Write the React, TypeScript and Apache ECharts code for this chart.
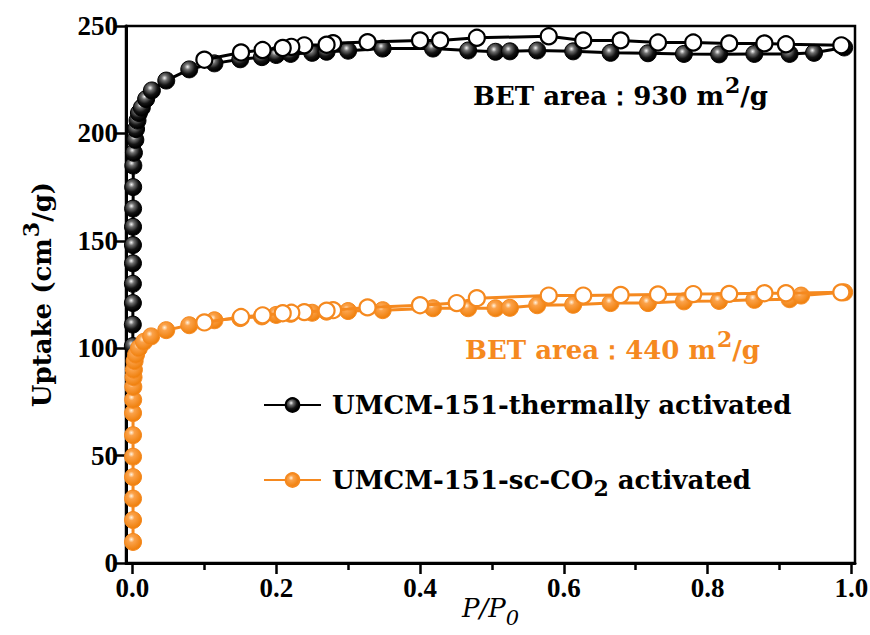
import React, { useEffect, useRef } from 'react';
import * as echarts from 'echarts';

// ---- data ----
const thermAdsX = [0.0005, 0.0005, 0.0006, 0.0006, 0.0007, 0.0007, 0.0008, 0.0009, 0.001, 0.0012, 0.002, 0.004, 0.005, 0.007, 0.009, 0.013, 0.019, 0.027, 0.047, 0.079, 0.114, 0.15, 0.18, 0.2, 0.22, 0.25, 0.27, 0.3, 0.348, 0.418, 0.467, 0.505, 0.525, 0.563, 0.613, 0.665, 0.717, 0.767, 0.816, 0.865, 0.914, 0.948, 0.99];
const thermAdsY = [101, 111, 121, 130, 139.5, 148, 156.5, 165, 175, 185, 191, 197, 202, 206, 209.5, 212, 216, 220, 224.6, 229.8, 232.6, 234.5, 235.5, 236.5, 237, 237.5, 238, 238.5, 239.5, 239.5, 238.6, 238, 238.2, 238.6, 238.2, 237.5, 237.3, 237, 236.8, 237, 237, 237.5, 240];

const thermDesX = [0.986, 0.909, 0.879, 0.83, 0.78, 0.731, 0.679, 0.627, 0.579, 0.479, 0.428, 0.4, 0.327, 0.279, 0.27, 0.239, 0.221, 0.209, 0.181, 0.151, 0.1];
const thermDesY = [241, 241.5, 241.9, 241.9, 242.3, 242.3, 243.3, 243.3, 245.2, 244.5, 243.3, 243.3, 242.5, 242, 241.3, 241, 240.3, 239.8, 238.8, 237.7, 234.3];

const scAdsX = [0.0008, 0.0008, 0.0008, 0.0008, 0.0008, 0.0008, 0.0008, 0.001, 0.0012, 0.0015, 0.002, 0.003, 0.005, 0.009, 0.016, 0.026, 0.047, 0.079, 0.114, 0.15, 0.18, 0.2, 0.22, 0.25, 0.27, 0.3, 0.348, 0.418, 0.467, 0.505, 0.525, 0.563, 0.613, 0.665, 0.717, 0.767, 0.816, 0.865, 0.914, 0.93, 0.99];
const scAdsY = [9.8, 20, 30, 40, 49.5, 59.5, 69.8, 76, 82, 86.5, 90, 94, 97, 100, 103, 105.5, 108.4, 110.7, 113, 114, 114.8, 115.5, 116, 116.5, 117, 117.3, 117.7, 118.6, 118.6, 118.6, 118.8, 120, 120.2, 121, 121, 121.8, 122, 122.5, 122.8, 124.5, 126];

const scDesX = [0.986, 0.909, 0.879, 0.83, 0.78, 0.731, 0.679, 0.627, 0.579, 0.479, 0.451, 0.4, 0.327, 0.279, 0.27, 0.239, 0.221, 0.209, 0.181, 0.151, 0.1];
const scDesY = [126, 125.6, 125.6, 125.3, 125.2, 125, 124.8, 124.5, 124.5, 123.3, 121, 120, 119, 117.7, 117.5, 116.8, 116.5, 116.3, 115.3, 114.5, 112];

const xTickValues = [0, 0.2, 0.4, 0.6, 0.8, 1.0];
const seriesNames = ['UMCM-151-thermally activated', 'UMCM-151-sc-CO2 activated'];
const betLabels = ['930', '440'];

const SERIF = '"DejaVu Serif", "Liberation Serif", serif';
const TICKFONT = '"Liberation Serif", "DejaVu Serif", serif';
const ORANGE = '#F5891F';

const zip = (xs: number[], ys: number[]) => xs.map((x, i) => [x, ys[i]]);

const richBase = (size: number, color: string, lh: number, italic = false, bold = true, family = SERIF) => ({
  fontFamily: family,
  fontWeight: bold ? 'bold' : 'normal',
  fontStyle: italic ? 'italic' : 'normal',
  fontSize: size,
  color,
  lineHeight: lh,
});

export default function App() {
  const ref = useRef<HTMLDivElement>(null);
  useEffect(() => {
    const chart = echarts.init(ref.current!, null, { renderer: 'svg' });
    const ballBlack = new echarts.graphic.RadialGradient(0.4, 0.35, 0.6, [
      { offset: 0, color: '#f5f5f5' },
      { offset: 0.28, color: '#707070' },
      { offset: 0.7, color: '#141414' },
      { offset: 1, color: '#000' },
    ]);
    const ballOrange = new echarts.graphic.RadialGradient(0.4, 0.35, 0.6, [
      { offset: 0, color: '#fff3e0' },
      { offset: 0.3, color: '#fba24a' },
      { offset: 1, color: '#f08210' },
    ]);

    const supRich = (size: number, color: string) => ({
      fontFamily: SERIF, fontWeight: 'bold', fontSize: size, color, verticalAlign: 'top', padding: [0, 0, 0, 1],
    });
    const subRich = (size: number, color: string, pad: number, italic = false, bold = true) => ({
      fontFamily: SERIF, fontWeight: bold ? 'bold' : 'normal', fontStyle: italic ? 'italic' : 'normal',
      fontSize: size, color, verticalAlign: 'top', padding: [pad, 0, 0, 0],
    });

    const betText = (val: string, color: string, x: number, y: number) => ({
      type: 'text',
      x,
      y,
      style: {
        text: `BET area：${val} m{sup|2}/g`,
        fontFamily: SERIF,
        fontWeight: 'bold',
        fontSize: 26,
        fill: color,
        lineHeight: 44,
        verticalAlign: 'top',
        rich: {
          sup: { fontFamily: SERIF, fontWeight: 'bold', fontSize: 22, fill: color, verticalAlign: 'top', padding: [0, 0, 0, 1] },
        },
      },
    });

    chart.setOption({
      animation: false,
      backgroundColor: '#fff',
      grid: {
        left: 126, right: 15, top: 26, bottom: 72,
        containLabel: false, outerBoundsMode: 'none',
        show: true, borderColor: '#000', borderWidth: 2.5, backgroundColor: 'transparent',
      },
      xAxis: {
        type: 'value',
        min: -0.009,
        max: 1.005,
        splitLine: { show: false },
        axisLine: { show: true, onZero: false, lineStyle: { color: '#000', width: 3 } },
        axisTick: { show: true, inside: false, length: 11, lineStyle: { color: '#000', width: 2.5 }, customValues: xTickValues },
        minorTick: { show: true, splitNumber: 2, length: 7, lineStyle: { color: '#000', width: 2.5 } },
        axisLabel: {
          customValues: xTickValues,
          margin: 12,
          formatter: (v: number) => v.toFixed(1),
          ...richBase(27, '#000', 26, false, true, TICKFONT),
        },
        name: 'P/P{sub|0}',
        nameLocation: 'middle',
        nameGap: 30,
        nameMoveOverlap: false,
        nameTextStyle: {
          ...richBase(26, '#000', 30, true, false),
          rich: { sub: subRich(21, '#000', 14, true, false) },
        },
      },
      yAxis: {
        type: 'value',
        min: 0,
        max: 250,
        interval: 50,
        splitLine: { show: false },
        axisLine: { show: true, onZero: false, lineStyle: { color: '#000', width: 3 } },
        axisTick: { show: true, inside: false, length: 12, lineStyle: { color: '#000', width: 2.5 } },
        axisLabel: { margin: 8, ...richBase(27, '#000', 26, false, true, TICKFONT) },
        name: 'Uptake (cm{sup|3}/g)',
        nameLocation: 'middle',
        nameRotate: 90,
        nameGap: 62,
        nameMoveOverlap: false,
        nameTextStyle: {
          ...richBase(26, '#000', 44),
          rich: { sup: supRich(22, '#000') },
        },
      },
      legend: {
        data: seriesNames,
        orient: 'vertical',
        left: 258,
        top: 378,
        itemWidth: 57,
        itemHeight: 17,
        itemGap: 31,
        formatter: (name: string) => (name === seriesNames[1] ? 'UMCM-151-sc-CO{sub|2} activated' : name),
        textStyle: {
          ...richBase(26, '#000', 44),
          padding: [0, 0, 0, 6],
          rich: { sub: subRich(22, '#000', 19) },
        },
      },
      graphic: [betText(betLabels[0], '#000', 473, 74), betText(betLabels[1], ORANGE, 465, 328)],
      series: [
        {
          name: seriesNames[0],
          type: 'line',
          data: zip(thermAdsX, thermAdsY),
          symbol: 'circle',
          symbolSize: 17,
          showAllSymbol: true,
          itemStyle: { color: ballBlack, borderColor: '#000', borderWidth: 1 },
          lineStyle: { color: '#000', width: 3 },
          z: 2,
        },
        {
          name: 'thermally activated desorption',
          type: 'line',
          data: zip(thermDesX, thermDesY),
          symbol: 'circle',
          symbolSize: 16,
          showAllSymbol: true,
          itemStyle: { color: '#fff', borderColor: '#000', borderWidth: 2.2 },
          lineStyle: { color: '#000', width: 3 },
          z: 3,
        },
        {
          name: seriesNames[1],
          type: 'line',
          data: zip(scAdsX, scAdsY),
          symbol: 'circle',
          symbolSize: 17,
          showAllSymbol: true,
          itemStyle: { color: ballOrange, borderColor: ORANGE, borderWidth: 1 },
          lineStyle: { color: ORANGE, width: 3 },
          z: 4,
        },
        {
          name: 'sc-CO2 activated desorption',
          type: 'line',
          data: zip(scDesX, scDesY),
          symbol: 'circle',
          symbolSize: 16,
          showAllSymbol: true,
          itemStyle: { color: '#fff', borderColor: ORANGE, borderWidth: 2.2 },
          lineStyle: { color: ORANGE, width: 3 },
          z: 5,
        },
      ],
    });
    return () => chart.dispose();
  }, []);
  return <div ref={ref} style={{ position: 'fixed', left: 0, top: 0, width: 870, height: 635 }} />;
}
